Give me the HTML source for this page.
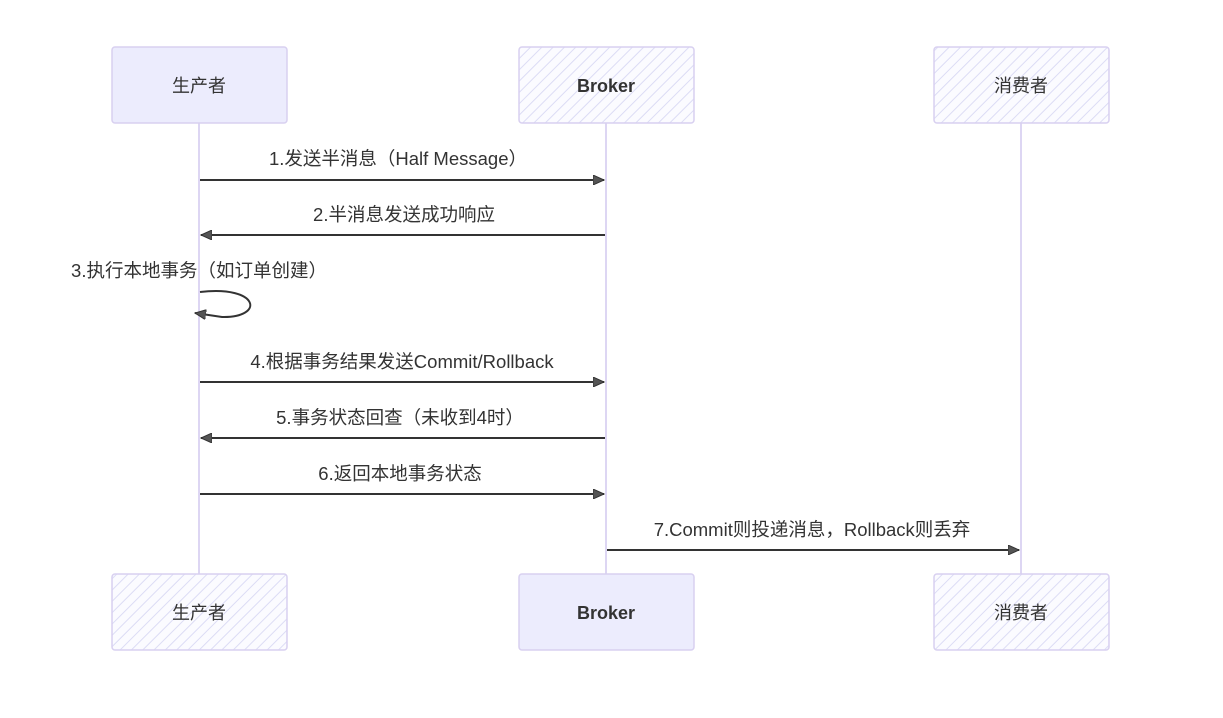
<!DOCTYPE html>
<html><head><meta charset="utf-8"><style>
html,body{margin:0;padding:0;background:#fff;}
svg text{font-family:"Liberation Sans","Noto Sans CJK SC",sans-serif;fill:#333;}
</style></head><body>
<svg width="1223" height="713" xmlns="http://www.w3.org/2000/svg">
<defs>
<pattern id="h" width="8" height="8" patternUnits="userSpaceOnUse" patternTransform="rotate(45)">
<rect width="8" height="8" fill="#fbfbff"/><line x1="0" y1="0" x2="0" y2="8" stroke="#dcdcf5" stroke-width="2"/>
</pattern>
<marker id="a" markerWidth="12" markerHeight="10" refX="11" refY="5" orient="auto" markerUnits="userSpaceOnUse">
<path d="M0,0 L11,5 L0,10 Z" fill="#555" stroke="#333"/></marker>
</defs>
<g stroke="#ddd6f3" stroke-width="2">
<line x1="199" y1="123" x2="199" y2="574"/>
<line x1="606" y1="123" x2="606" y2="574"/>
<line x1="1021" y1="123" x2="1021" y2="574"/>
</g>
<g stroke="#d8d0f0" stroke-width="1.5">
<rect x="112" y="47" width="175" height="76" rx="3" fill="#ececfd"/>
<rect x="519" y="47" width="175" height="76" rx="3" fill="url(#h)"/>
<rect x="934" y="47" width="175" height="76" rx="3" fill="url(#h)"/>
<rect x="112" y="574" width="175" height="76" rx="3" fill="url(#h)"/>
<rect x="519" y="574" width="175" height="76" rx="3" fill="#ececfd"/>
<rect x="934" y="574" width="175" height="76" rx="3" fill="url(#h)"/>
</g>
<g font-size="18" text-anchor="middle">
<text x="199" y="92">生产者</text>
<text x="606" y="92" font-weight="bold">Broker</text>
<text x="1021" y="92">消费者</text>
<text x="199" y="619">生产者</text>
<text x="606" y="619" font-weight="bold">Broker</text>
<text x="1021" y="619">消费者</text>
</g>
<g stroke="#333" stroke-width="2" fill="none" marker-end="url(#a)">
<line x1="200" y1="180" x2="604" y2="180"/>
<line x1="605" y1="235" x2="201" y2="235"/>
<path d="M200,292 C260,285 265,318 222,317 L195,313"/>
<line x1="200" y1="382" x2="604" y2="382"/>
<line x1="605" y1="438" x2="201" y2="438"/>
<line x1="200" y1="494" x2="604" y2="494"/>
<line x1="607" y1="550" x2="1019" y2="550"/>
</g>
<g font-size="18.5" text-anchor="middle">
<text x="398" y="165">1.发送半消息（Half Message）</text>
<text x="404" y="221">2.半消息发送成功响应</text>
<text x="199" y="277">3.执行本地事务（如订单创建）</text>
<text x="402" y="368">4.根据事务结果发送Commit/Rollback</text>
<text x="400" y="424">5.事务状态回查（未收到4时）</text>
<text x="400" y="480">6.返回本地事务状态</text>
<text x="812" y="536">7.Commit则投递消息，Rollback则丢弃</text>
</g>
</svg>
</body></html>
